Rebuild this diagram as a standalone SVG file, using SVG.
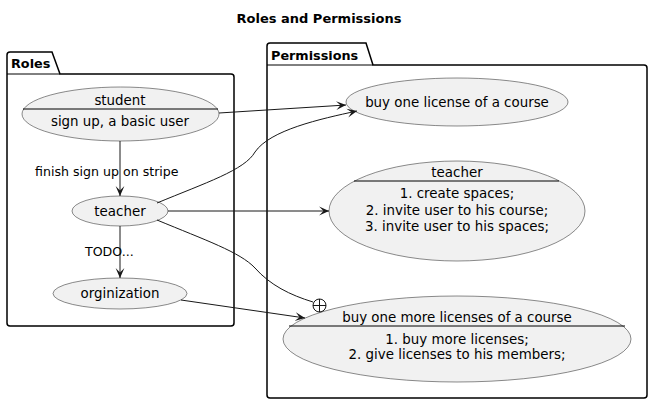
<svg xmlns="http://www.w3.org/2000/svg" width="652" height="404" viewBox="0 0 652 404">
<defs>
<style>
text{font-family:"DejaVu Sans","Liberation Sans",sans-serif;font-size:13.4px;fill:#000}
.b{font-weight:bold;font-size:12.8px}
.t{font-size:13px;font-weight:bold}
.l{font-size:12.6px}
.m{text-anchor:middle}
.pkg{fill:#fff;stroke:#000;stroke-width:1.5}
.uc{fill:#f1f1f1;stroke:#181818;stroke-width:0.5}
.sep{stroke:#000;stroke-width:1}
.e{fill:none;stroke:#181818;stroke-width:1}
</style>
<marker id="arr" viewBox="0 0 10 10" refX="9" refY="5" markerWidth="11" markerHeight="11" markerUnits="userSpaceOnUse" orient="auto">
<path d="M0,1 L9,5 L0,9 L4,5 Z" fill="#181818"/>
</marker>
</defs>
<rect width="652" height="404" fill="#fff"/>
<text class="t m" x="319" y="23">Roles and Permissions</text>

<g id="pkg-roles">
<path class="pkg" d="M7,74 V55 Q7,52 10,52 H52 L60,74 H231 Q234,74 234,77 V323 Q234,326 231,326 H10 Q7,326 7,323 Z"/>
<line class="sep" x1="7" y1="74" x2="60" y2="74"/>
<text class="b" x="11" y="68">Roles</text>
</g>
<g id="pkg-permissions">
<path class="pkg" d="M267,65 V46 Q267,43 270,43 H366 L373,65 H644 Q647,65 647,68 V395 Q647,398 644,398 H270 Q267,398 267,395 Z"/>
<line class="sep" x1="267" y1="65" x2="373" y2="65"/>
<text class="b" x="271" y="60">Permissions</text>
</g>

<g id="student">
<ellipse class="uc" cx="120.5" cy="114" rx="98.5" ry="27"/>
<line class="sep" x1="23" y1="109" x2="218" y2="109"/>
<text class="m" x="120" y="105">student</text>
<text class="m" x="120" y="126">sign up, a basic user</text>
</g>
<g id="teacher">
<ellipse class="uc" cx="120" cy="211" rx="48" ry="15"/>
<text class="m" x="120" y="215.5">teacher</text>
</g>
<g id="orginization">
<ellipse class="uc" cx="120" cy="293.5" rx="67" ry="15.5"/>
<text class="m" x="120" y="298">orginization</text>
</g>
<g id="perm-buy-one">
<ellipse class="uc" cx="457" cy="102" rx="111" ry="24"/>
<text class="m" x="457" y="106.5">buy one license of a course</text>
</g>
<g id="perm-teacher">
<ellipse class="uc" cx="457" cy="211" rx="128" ry="50"/>
<line class="sep" x1="354" y1="181" x2="559" y2="181"/>
<text class="m" x="457" y="177">teacher</text>
<text class="m" x="457" y="198">1. create spaces;</text>
<text class="m" x="457" y="215">2. invite user to his course;</text>
<text class="m" x="457" y="231">3. invite user to his spaces;</text>
</g>
<g id="perm-buy-more">
<ellipse class="uc" cx="457" cy="339" rx="174" ry="43"/>
<line class="sep" x1="289" y1="326" x2="625" y2="326"/>
<text class="m" x="457" y="322">buy one more licenses of a course</text>
<text class="m" x="457" y="344">1. buy more licenses;</text>
<text class="m" x="457" y="359">2. give licenses to his members;</text>
</g>

<g id="connectors">
<path class="e" d="M120,141 V196" marker-end="url(#arr)"/>
<text class="l" x="35" y="176">finish sign up on stripe</text>
<path class="e" d="M120,226 V278" marker-end="url(#arr)"/>
<text class="l" x="85" y="256">TODO...</text>
<path class="e" d="M219,113 L346,105" marker-end="url(#arr)"/>
<path class="e" d="M157,203 C205,183 245,170 255,152 C270,130 320,119 357,111" marker-end="url(#arr)"/>
<path class="e" d="M168,211 H329" marker-end="url(#arr)"/>
<path class="e" d="M157,220 C205,240 240,252 255,268 C270,285 290,295 313,302"/>
<circle cx="319.5" cy="305.5" r="6.5" fill="none" stroke="#181818" stroke-width="1"/>
<path class="e" d="M313,305.5 H326 M319.5,299 V312"/>
<path class="e" d="M181,300 L305,318" marker-end="url(#arr)"/>
</g>
</svg>
